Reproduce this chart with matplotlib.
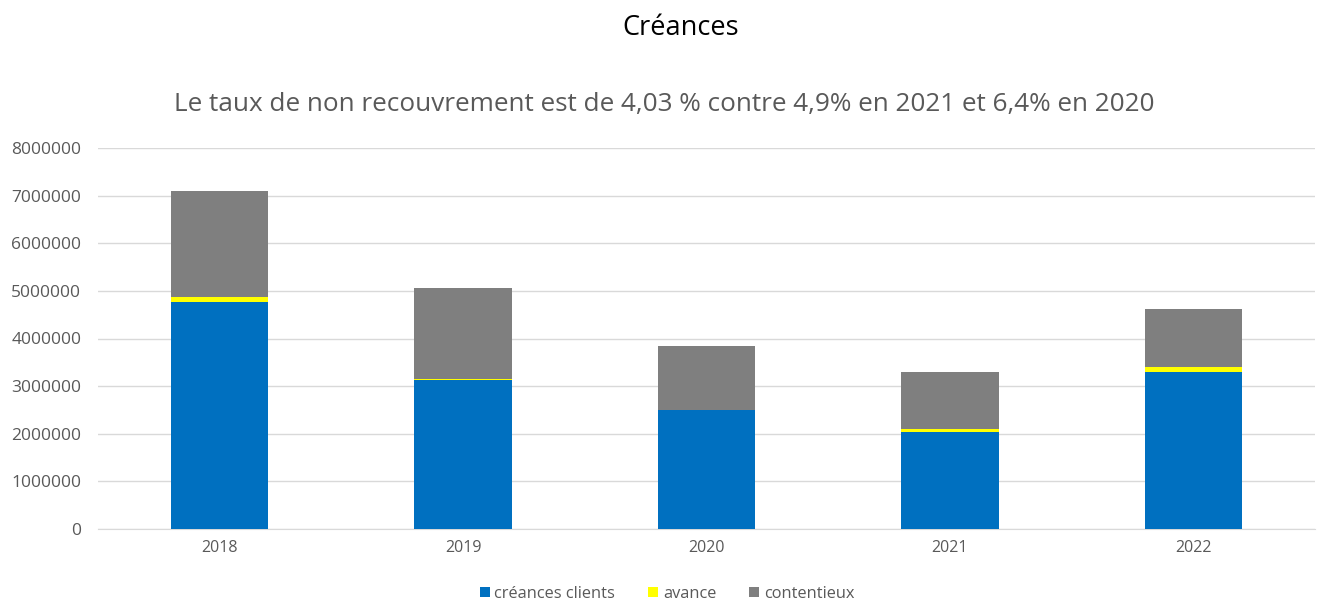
import matplotlib.pyplot as plt
import numpy as np

annees = ['2018', '2019', '2020', '2021', '2022']
creances_clients = [4770000, 3130000, 2490000, 2040000, 3300000]
avance = [110000, 30000, 10000, 50000, 100000]
contentieux = [2220000, 1890000, 1340000, 1200000, 1220000]

plt.rcParams['font.family'] = ['Open Sans', 'DejaVu Sans']

fig = plt.figure(figsize=(13.18, 6.03), dpi=100)
ax = fig.add_axes([98 / 1318, 1 - 529 / 603, 1217 / 1318, 381 / 603])

x = np.arange(len(annees))
cc = np.array(creances_clients)
av = np.array(avance)
ct = np.array(contentieux)

ax.bar(x, cc, width=0.4, color='#0070c0', label='créances clients', zorder=3)
ax.bar(x, av, width=0.4, bottom=cc, color='#ffff00', label='avance', zorder=3)
ax.bar(x, ct, width=0.4, bottom=cc + av, color='#7f7f7f', label='contentieux', zorder=3)

ax.set_xlim(-0.5, len(annees) - 0.5)
ax.set_ylim(0, 8000000)
ax.set_yticks(np.arange(0, 8000001, 1000000))
ax.set_yticklabels([str(v) for v in range(0, 8000001, 1000000)])
ax.set_xticks(x)
ax.set_xticklabels(annees)
ax.yaxis.grid(True, color='#d9d9d9', linewidth=1, zorder=0)
for s in ['top', 'right', 'left']:
    ax.spines[s].set_visible(False)
ax.spines['bottom'].set_color('#d9d9d9')
ax.tick_params(axis='x', length=0, labelsize=11.5, colors='#595959', pad=8)
ax.tick_params(axis='y', length=0, labelsize=12.5, colors='#595959', pad=12)

fig.text(681 / 1318, 1 - 28 / 603, 'Créances', ha='center', va='center', fontsize=19.5, color='black')
fig.text(664 / 1318, 1 - 105 / 603, 'Le taux de non recouvrement est de 4,03 % contre 4,9% en 2021 et 6,4% en 2020',
         ha='center', va='center', fontsize=18.8, color='#595959')

fig.legend(loc='center', bbox_to_anchor=(667 / 1318, 1 - 594 / 603), ncol=3, frameon=False,
           fontsize=11.8, labelcolor='#595959', handlelength=0.6, handleheight=0.6,
           handletextpad=0.3, columnspacing=2.0)

fig.savefig('out.png', dpi=100)
